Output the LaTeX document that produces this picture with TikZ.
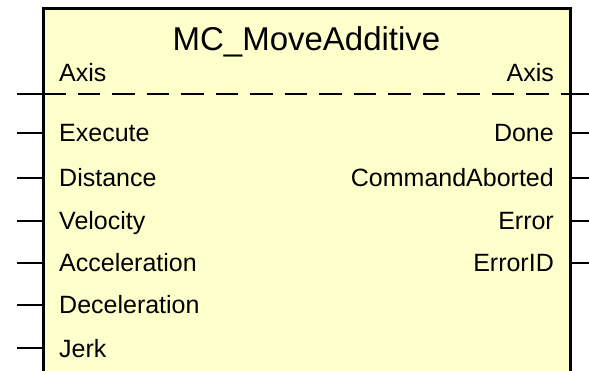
\documentclass[tikz,border=0pt]{standalone}
\usepackage{fontspec}
\setmainfont{Liberation Sans}
\begin{document}
\begin{tikzpicture}[x=1pt,y=-1pt,
  blockedge/.style={line width=3pt,line cap=rect},
  pinline/.style={line width=2.6pt},
  axisline/.style={line width=2.8pt,dash pattern=on 22.5pt off 12pt},
  inlabel/.style={anchor=base west,inner sep=0pt,font=\fontsize{25}{30}\selectfont},
  outlabel/.style={anchor=base east,inner sep=0pt,font=\fontsize{25}{30}\selectfont},
  titlelabel/.style={anchor=base,inner sep=0pt,font=\fontsize{33}{40}\selectfont}]
\definecolor{blockfill}{RGB}{255,255,204}
\useasboundingbox (0,0) rectangle (589,371);
% function block body, open at the bottom
\fill[blockfill] (43,9) rectangle (570,380);
\coordinate (bl) at (43,380);
\coordinate (tl) at (43,9);
\coordinate (tr) at (570,9);
\coordinate (br) at (570,380);
% title and axis in/out
\node[titlelabel] (title) at (306.5,51) {MC\_MoveAdditive};
\node[inlabel] (axisin) at (59,82) {Axis};
\node[outlabel] (axisout) at (554,82) {Axis};
\coordinate (axl) at (17,94);
\coordinate (axb) at (43,94);
\coordinate (axe) at (570,94);
\coordinate (axr) at (592,94);
\draw[pinline] (axl) -- (axb);
\draw[axisline] (axb) -- (axe);
\draw[pinline] (axe) -- (axr);
% inputs
\foreach \name/\txt/\y in {ex/Execute/133,di/Distance/178,ve/Velocity/221,
    ac/Acceleration/263,de/Deceleration/305,je/Jerk/348}{
  \node[inlabel] (\name) at (59,\y+9) {\txt};
  \coordinate (\name-a) at (17,\y);
  \coordinate (\name-b) at (43,\y);
  \draw[pinline] (\name-a) -- (\name-b);
}
% outputs
\foreach \name/\txt/\y in {dn/Done/133,ca/CommandAborted/178,er/Error/221,id/ErrorID/263}{
  \node[outlabel] (\name) at (554,\y+9) {\txt};
  \coordinate (\name-a) at (570,\y);
  \coordinate (\name-b) at (592,\y);
  \draw[pinline] (\name-a) -- (\name-b);
}
\draw[blockedge] (bl) -- (tl) -- (tr) -- (br);
\end{tikzpicture}
\end{document}
